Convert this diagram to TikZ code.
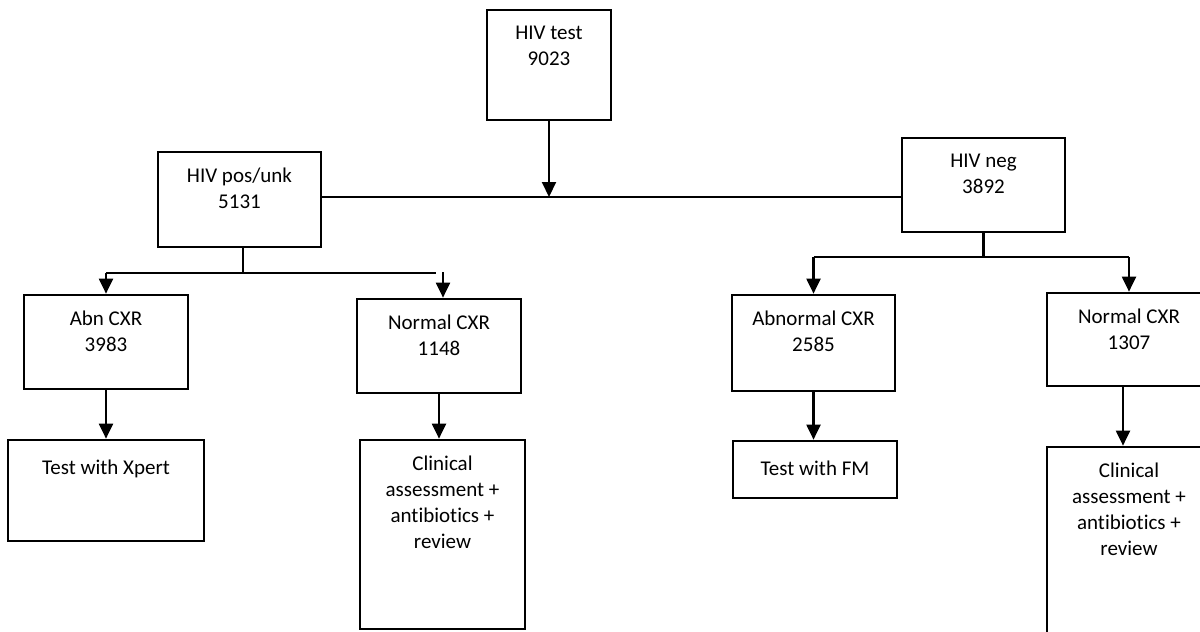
\documentclass[tikz,border=0pt]{standalone}
\usepackage{fontspec}
\setmainfont{Carlito}[Ligatures=NoCommon]
\usetikzlibrary{arrows.meta,fit}
\begin{document}
\begin{tikzpicture}[x=0.5pt,y=-0.5pt,
  box/.style={draw, line width=1.35pt, inner sep=0pt},
  lab/.style={anchor=north, align=center, inner sep=0pt, yshift=-8.6pt,
    font=\fontsize{10.5}{13}\selectfont, execute at begin node=\strut},
  conn/.style={line width=1.05pt},
  arr/.style={conn, -{Triangle[width=7pt,length=7.5pt]}}]
\useasboundingbox (0,0) rectangle (1200,632);
\clip (0,0) rectangle (1200,632);

% boxes
\node[box, fit={(487,10) (611,120)}, label={[lab]north:{HIV test\\9023}}] (test) {};
\node[box, fit={(158,152) (321,247)}, label={[lab]north:{HIV pos/unk\\5131}}] (pos) {};
\node[box, fit={(902,138) (1065,232)}, label={[lab]north:{HIV neg\\3892}}] (neg) {};
\node[box, fit={(24,295) (188,389)}, label={[lab]north:{Abn CXR\\3983}}] (abn) {};
\node[box, fit={(357,299) (521,393)}, label={[lab]north:{Normal CXR\\1148}}] (nrmA) {};
\node[box, fit={(732,295) (895,391)}, label={[lab]north:{Abnormal CXR\\2585}}] (abnB) {};
\node[box, fit={(1047,293) (1211,386)}, label={[lab]north:{Normal CXR\\1307}}] (nrmB) {};
\node[box, fit={(8,440) (204,541)}, label={[lab]north:{Test with Xpert}}] (xpert) {};
\node[box, fit={(360,440) (525,629)}, label={[lab]north:{Clinical\\assessment +\\antibiotics +\\review}}] (clinA) {};
\node[box, fit={(733,441) (897,498)}, label={[lab]north:{Test with FM}}] (fm) {};
\node[box, fit={(1047,447) (1211,680)}, label={[lab]north:{Clinical\\assessment +\\antibiotics +\\review}}] (clinB) {};

% junction coordinates
\coordinate (j0) at (549,197);
\coordinate (jl) at (243,273);
\coordinate (jlL) at (106,273);
\coordinate (jlR) at (436,273);
\coordinate (jlA) at (443,272);
\coordinate (jr) at (983.5,257);
\coordinate (jrL) at (813.5,257);
\coordinate (jrR) at (1129,257);
\coordinate (nB) at (1123,386);

% connectors
\draw[arr] (test.south -| j0) -- (j0);
\draw[conn] (pos.east |- j0) -- (neg.west |- j0);
\draw[conn] (pos.south -| jl) -- (jl);
\draw[conn] (jlL) -- (jlR);
\draw[arr] (jlL) -- (abn.north -| jlL);
\draw[arr] (jlA) -- (nrmA.north -| jlA);
\draw[conn] (neg.south -| jr) -- (jr);
\draw[conn] (jrL) -- (jrR);
\draw[arr] (jrL) -- (abnB.north -| jrL);
\draw[arr] (jrR) -- (nrmB.north -| jrR);
\draw[arr] (abn.south) -- (xpert.north -| abn.south);
\draw[arr] (nrmA.south) -- (clinA.north -| nrmA.south);
\draw[arr] (abnB.south) -- (fm.north -| abnB.south);
\draw[arr] (nB) -- (clinB.north -| nB);
\end{tikzpicture}
\end{document}
